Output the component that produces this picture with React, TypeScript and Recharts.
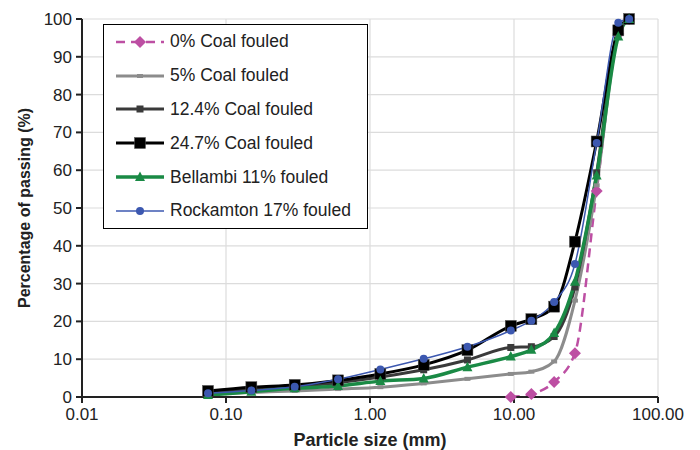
import React from 'react';
import { LineChart, Line, XAxis, YAxis, CartesianGrid, Label } from 'recharts';

const sieveSizes = [0.075, 0.15, 0.3, 0.6, 1.18, 2.36, 4.75, 9.5, 13.2, 19, 26.5, 37.5, 53, 63];
const coal0Sizes = [9.5, 13.2, 19, 26.5, 37.5, 53, 63];
const coal0Values = [0, 0.8, 4.0, 11.6, 54.5, 96, 100];
const coal5Values = [0.8, 1.2, 1.6, 2.1, 2.6, 3.6, 4.8, 6.1, 6.7, 9.4, 25.5, 56, 96, 100];
const coal124Values = [1.3, 2.0, 2.8, 3.8, 5.3, 7.2, 9.8, 13.1, 13.3, 16.0, 29.1, 59.3, 97, 100];
const coal247Values = [1.6, 2.6, 3.2, 4.4, 6.1, 8.5, 12.4, 18.8, 20.6, 23.9, 41.1, 67.6, 97, 100];
const bellambiValues = [0.5, 1.4, 2.3, 2.9, 4.2, 4.9, 7.9, 10.7, 12.5, 16.9, 30.5, 58.6, 95.4, 100];
const rockamtonValues = [1.0, 1.7, 2.7, 4.7, 7.3, 10.1, 13.3, 17.6, 20.2, 25.1, 35.2, 67.2, 99, 100];

const xTicks = [0.01, 0.1, 1, 10, 100];
const xTickLabels = ['0.01', '0.10', '1.00', '10.00', '100.00'];
const yTicks = [0, 10, 20, 30, 40, 50, 60, 70, 80, 90, 100];

const seriesNames = [
  '0% Coal fouled',
  '5% Coal fouled',
  '12.4% Coal fouled',
  '24.7% Coal fouled',
  'Bellambi 11% fouled',
  'Rockamton 17% fouled',
];

const toData = (xs: number[], ys: number[]) => xs.map((x, i) => ({ size: x, value: ys[i] }));

const FONT = 'Liberation Sans, Arial, sans-serif';
const PINK = '#bd4fa3';
const LGREY = '#8c8c8c';
const DGREY = '#3a3a3a';
const BLACK = '#000000';
const GREEN = '#1a8a45';
const BLUE = '#3c58b0';

type Kind = 'diamond' | 'dash' | 'smallsq' | 'square' | 'triangle' | 'circle';

const Marker = ({ cx, cy, kind }: { cx: number; cy: number; kind: Kind }) => {
  if (cx == null || cy == null || isNaN(cx) || isNaN(cy)) return null;
  switch (kind) {
    case 'diamond':
      return <polygon points={`${cx},${cy - 6} ${cx + 6},${cy} ${cx},${cy + 6} ${cx - 6},${cy}`} fill={PINK} />;
    case 'dash':
      return <rect x={cx - 3} y={cy - 2} width={6} height={4} fill={LGREY} />;
    case 'smallsq':
      return <rect x={cx - 3.5} y={cy - 3.5} width={7} height={7} fill={DGREY} />;
    case 'square':
      return <rect x={cx - 5.5} y={cy - 5.5} width={11} height={11} fill={BLACK} stroke="#555" strokeWidth={0.5} />;
    case 'triangle':
      return <polygon points={`${cx},${cy - 5.5} ${cx + 5},${cy + 4} ${cx - 5},${cy + 4}`} fill={GREEN} />;
    case 'circle':
      return <circle cx={cx} cy={cy} r={4} fill={BLUE} />;
  }
  return null;
};

const mkDot = (kind: Kind) => (props: any) => (
  <Marker key={`${kind}-${props.index}`} cx={props.cx} cy={props.cy} kind={kind} />
);

const legendItems: { color: string; width: number; dash?: string; kind: Kind }[] = [
  { color: PINK, width: 2.5, dash: '9 6', kind: 'diamond' },
  { color: LGREY, width: 3, kind: 'dash' },
  { color: DGREY, width: 3, kind: 'smallsq' },
  { color: BLACK, width: 3, kind: 'square' },
  { color: GREEN, width: 3.5, kind: 'triangle' },
  { color: BLUE, width: 1.5, kind: 'circle' },
];

const CustomLegend = () => (
  <div
    style={{
      position: 'absolute',
      left: 103,
      top: 24,
      border: '1.5px solid #000',
      background: '#fff',
      width: 265,
      height: 205,
      boxSizing: 'border-box',
      paddingTop: 0,
      fontFamily: FONT,
      fontSize: 17.5,
      color: '#222',
    }}
  >
    {legendItems.map((it, i) => (
      <div key={i} style={{ display: 'flex', alignItems: 'center', height: 33.8, whiteSpace: 'nowrap' }}>
        <svg width={66} height={20} style={{ flex: 'none' }}>
          <line x1={12} x2={60} y1={10} y2={10} stroke={it.color} strokeWidth={it.width} strokeDasharray={it.dash} />
          <Marker cx={36} cy={10} kind={it.kind} />
        </svg>
        <span>{seriesNames[i]}</span>
      </div>
    ))}
  </div>
);

export default function App() {
  return (
    <div style={{ position: 'absolute', left: 0, top: 0, width: 700, height: 450, background: '#fff' }}>
      <LineChart width={700} height={450} margin={{ top: 19, right: 42, bottom: 0, left: 0 }}>
        <CartesianGrid stroke="#dcdcdc" strokeWidth={1.2} />
        <XAxis
          dataKey="size"
          type="number"
          scale="log"
          domain={[0.01, 100]}
          allowDataOverflow
          ticks={xTicks}
          interval={0}
          tickFormatter={(v: number) => xTickLabels[xTicks.indexOf(v)] ?? String(v)}
          height={53}
          stroke="#222"
          strokeWidth={2}
          tickSize={6}
          tick={{ fill: '#222', fontSize: 17, fontFamily: FONT }}
          tickMargin={5}
        >
          <Label
            value="Particle size (mm)"
            position="insideBottom"
            offset={4}
            style={{ fontWeight: 'bold', fontSize: 18, fill: '#222', fontFamily: FONT }}
          />
        </XAxis>
        <YAxis
          type="number"
          domain={[0, 100]}
          ticks={yTicks}
          interval={0}
          width={82}
          stroke="#222"
          strokeWidth={2}
          tickSize={6}
          tick={{ fill: '#222', fontSize: 17, fontFamily: FONT }}
          tickMargin={4}
        >
          <Label
            value="Percentage of passing (%)"
            angle={-90}
            position="insideLeft"
            offset={24}
            style={{ fontWeight: 'bold', fontSize: 16, fill: '#222', fontFamily: FONT, textAnchor: 'middle' }}
          />
        </YAxis>
        <Line
          data={toData(coal0Sizes, coal0Values)}
          dataKey="value"
          name={seriesNames[0]}
          type="monotone"
          stroke={PINK}
          strokeWidth={2.5}
          strokeDasharray="9 6"
          dot={mkDot('diamond')}
          activeDot={false}
          isAnimationActive={false}
        />
        <Line
          data={toData(sieveSizes, coal5Values)}
          dataKey="value"
          name={seriesNames[1]}
          type="monotone"
          stroke={LGREY}
          strokeWidth={3}
          dot={mkDot('dash')}
          activeDot={false}
          isAnimationActive={false}
        />
        <Line
          data={toData(sieveSizes, coal124Values)}
          dataKey="value"
          name={seriesNames[2]}
          type="monotone"
          stroke={DGREY}
          strokeWidth={3}
          dot={mkDot('smallsq')}
          activeDot={false}
          isAnimationActive={false}
        />
        <Line
          data={toData(sieveSizes, coal247Values)}
          dataKey="value"
          name={seriesNames[3]}
          type="monotone"
          stroke={BLACK}
          strokeWidth={3}
          dot={mkDot('square')}
          activeDot={false}
          isAnimationActive={false}
        />
        <Line
          data={toData(sieveSizes, bellambiValues)}
          dataKey="value"
          name={seriesNames[4]}
          type="monotone"
          stroke={GREEN}
          strokeWidth={3.5}
          dot={mkDot('triangle')}
          activeDot={false}
          isAnimationActive={false}
        />
        <Line
          data={toData(sieveSizes, rockamtonValues)}
          dataKey="value"
          name={seriesNames[5]}
          type="monotone"
          stroke={BLUE}
          strokeWidth={1.5}
          dot={mkDot('circle')}
          activeDot={false}
          isAnimationActive={false}
        />
      </LineChart>
      <CustomLegend />
    </div>
  );
}
